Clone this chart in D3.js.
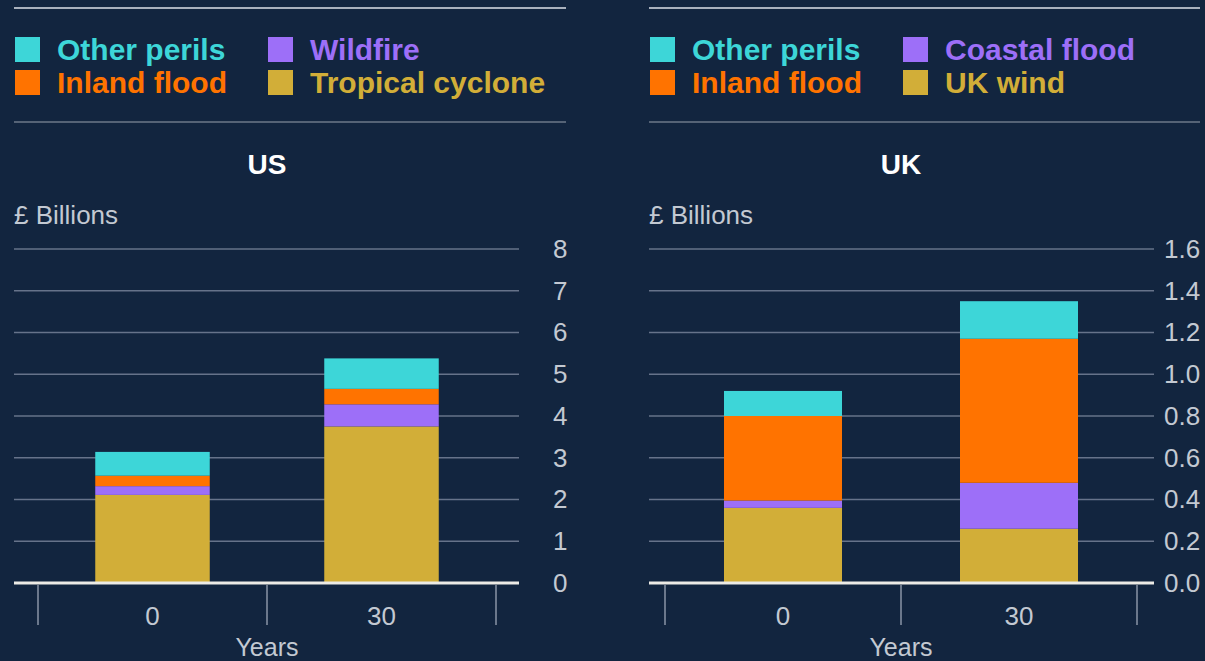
<!DOCTYPE html>
<html>
<head>
<meta charset="utf-8">
<script src="https://cdn.jsdelivr.net/npm/d3@7"></script>
<style>
  html, body { margin: 0; padding: 0; background: #12253f; }
  svg { display: block; }
  text { font-family: "Liberation Sans", Arial, Helvetica, sans-serif; }
</style>
</head>
<body>
<svg id="chart" width="1205" height="661"></svg>
<script>
// Years on the horizontal axis
const years = ["0", "30"];

// US losses, £ billions
const usPerils = ["Tropical cyclone", "Wildfire", "Inland flood", "Other perils"];
const usTropicalCyclone = [2.11, 3.75];
const usWildfire = [0.21, 0.53];
const usInlandFlood = [0.25, 0.37];
const usOtherPerils = [0.57, 0.73];
const usTicks = [0, 1, 2, 3, 4, 5, 6, 7, 8];

// UK losses, £ billions
const ukPerils = ["UK wind", "Coastal flood", "Inland flood", "Other perils"];
const ukWind = [0.36, 0.26];
const ukCoastalFlood = [0.035, 0.22];
const ukInlandFlood = [0.405, 0.69];
const ukOtherPerils = [0.12, 0.18];
const ukTicks = [0, 0.2, 0.4, 0.6, 0.8, 1.0, 1.2, 1.4, 1.6];

// Colours by stack position: bottom, second, third, top
const perilColors = ["#d2ae38", "#9d6ff8", "#ff7300", "#3dd6d8"];

const svg = d3.select("#chart");
svg.append("rect").attr("width", 1205).attr("height", 661).attr("fill", "#12253f");

function drawPanel(opt) {
  const g = svg.append("g");
  const keys = opt.perils;
  const rows = years.map((yr, i) => {
    const r = { year: yr };
    keys.forEach((k, j) => { r[k] = opt.values[j][i]; });
    return r;
  });
  const stacked = d3.stack().keys(keys)(rows);
  const color = d3.scaleOrdinal().domain(keys).range(perilColors);

  // Legend with rules above and below
  g.append("line").attr("x1", opt.left).attr("x2", opt.legendRight)
    .attr("y1", 8).attr("y2", 8).attr("stroke", "#a9b1bd").attr("stroke-width", 2);
  g.append("line").attr("x1", opt.left).attr("x2", opt.legendRight)
    .attr("y1", 122).attr("y2", 122).attr("stroke", "#6c788a").attr("stroke-width", 1.5);

  const legendOrder = [keys[3], keys[1], keys[2], keys[0]];
  legendOrder.forEach((k, i) => {
    const col = i % 2, row = Math.floor(i / 2);
    const lx = opt.left + 1 + col * 253;
    const ly = 37 + row * 33;
    g.append("rect").attr("x", lx).attr("y", ly).attr("width", 25).attr("height", 25)
      .attr("fill", color(k));
    g.append("text").attr("x", lx + 42).attr("y", ly + 23)
      .attr("font-size", 30).attr("font-weight", "bold").attr("fill", color(k)).text(k);
  });

  // Title and unit
  g.append("text").attr("x", opt.titleX).attr("y", 174).attr("text-anchor", "middle")
    .attr("font-size", 28).attr("font-weight", "bold").attr("fill", "#ffffff").text(opt.title);
  g.append("text").attr("x", opt.left).attr("y", 224)
    .attr("font-size", 26).attr("fill", "#c3c9d2").text("£ Billions");

  // Scales
  const y = d3.scaleLinear().domain(opt.domain).range([583, 249]);
  const x = d3.scaleBand().domain(years).range(opt.bandRange)
    .paddingInner(0.5).paddingOuter(0.25);

  // Horizontal gridlines
  g.selectAll(".grid").data(opt.ticks.slice(1)).join("line")
    .attr("x1", opt.left).attr("x2", opt.gridRight)
    .attr("y1", d => y(d)).attr("y2", d => y(d))
    .attr("stroke", "#66738a").attr("stroke-width", 1.5);

  // Right-hand value axis labels
  const yAxis = d3.axisRight(y).tickValues(opt.ticks).tickFormat(opt.fmt).tickSize(0).tickPadding(0);
  const ya = g.append("g").attr("transform", `translate(${opt.labelX},0)`).call(yAxis);
  ya.select(".domain").remove();
  ya.selectAll("text").attr("font-size", 26).attr("fill", "#c3c9d2")
    .attr("font-family", "'Liberation Sans', Arial, sans-serif");

  // Stacked bars
  g.selectAll(".layer").data(stacked).join("g")
    .attr("fill", d => color(d.key))
    .selectAll("rect").data(d => d).join("rect")
    .attr("x", d => x(d.data.year))
    .attr("width", x.bandwidth())
    .attr("y", d => y(d[1]))
    .attr("height", d => y(d[0]) - y(d[1]));

  // Baseline
  g.append("line").attr("x1", opt.left).attr("x2", opt.gridRight)
    .attr("y1", y(0)).attr("y2", y(0)).attr("stroke", "#ecebe6").attr("stroke-width", 3);

  // Category separators below the baseline
  const step = x.step();
  const seps = d3.range(years.length + 1).map(i => opt.bandRange[0] + i * step);
  g.selectAll(".sep").data(seps).join("line")
    .attr("x1", d => d).attr("x2", d => d).attr("y1", 585).attr("y2", 625)
    .attr("stroke", "#8a95a7").attr("stroke-width", 1.5);

  // Category labels
  g.selectAll(".xl").data(years).join("text")
    .attr("x", d => x(d) + x.bandwidth() / 2).attr("y", 625).attr("text-anchor", "middle")
    .attr("font-size", 26).attr("fill", "#c3c9d2").text(d => d);

  g.append("text").attr("x", (opt.bandRange[0] + opt.bandRange[1]) / 2).attr("y", 656)
    .attr("text-anchor", "middle").attr("font-size", 25).attr("fill", "#c3c9d2").text("Years");
}

drawPanel({
  title: "US", titleX: 267, left: 14, legendRight: 566, gridRight: 519, labelX: 553,
  bandRange: [38, 496], domain: [0, 8], ticks: usTicks, fmt: d3.format("d"),
  perils: usPerils,
  values: [usTropicalCyclone, usWildfire, usInlandFlood, usOtherPerils]
});

drawPanel({
  title: "UK", titleX: 901, left: 649, legendRight: 1200, gridRight: 1154, labelX: 1164,
  bandRange: [665, 1137], domain: [0, 1.6], ticks: ukTicks, fmt: d3.format(".1f"),
  perils: ukPerils,
  values: [ukWind, ukCoastalFlood, ukInlandFlood, ukOtherPerils]
});
</script>
</body>
</html>
